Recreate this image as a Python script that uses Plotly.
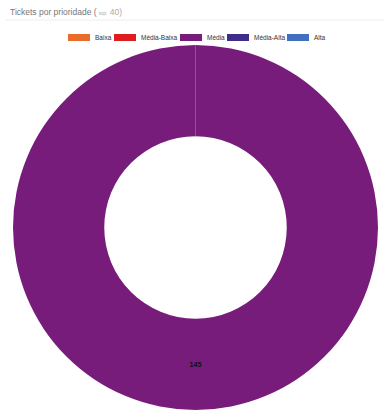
import plotly.graph_objects as go

# ---- data ----
labels = ["Baixa", "Média-Baixa", "Média", "Média-Alta", "Alta"]
values = [0, 0, 145, 0, 0]
colors = ["#EA6C2B", "#DD1D1F", "#771C7B", "#3E2D89", "#4170BE"]
title_main = "Tickets por prioridade ( "
title_small = "top:"
title_top = " 40)"

W, H = 389, 419
FONT = "Liberation Sans, Arial, sans-serif"

def px(x):
    return x / W

def py(y):
    return 1 - y / H

# pie geometry (pixels)
cx, cy, R = 195.5, 227.5, 182.5
hole = 0.5

fig = go.Figure()
fig.add_trace(go.Pie(
    labels=labels, values=values,
    marker=dict(colors=colors),
    hole=hole, sort=False, direction="clockwise", rotation=0,
    textinfo="value", texttemplate="<b>%{value}</b>",
    textposition="inside", insidetextorientation="horizontal",
    textfont=dict(size=7, color="#111111", family=FONT),
    domain=dict(x=[px(cx - R), px(cx + R)], y=[py(cy + R), py(cy - R)]),
    showlegend=False, hoverinfo="label+value",
))

shapes = []
annotations = []

# separator under title
shapes.append(dict(type="line", xref="paper", yref="paper",
                   x0=px(5), x1=px(384), y0=py(20), y1=py(20),
                   line=dict(color="#EEEEEE", width=1)))

# thin start line of the ring (top)
shapes.append(dict(type="line", xref="paper", yref="paper",
                   x0=px(cx), x1=px(cx), y0=py(cy - R), y1=py(cy - R * hole),
                   line=dict(color="#4A6FB5", width=1)))

# title
annotations.append(dict(
    xref="paper", yref="paper", x=px(8), y=py(12), xanchor="left", yanchor="middle",
    showarrow=False,
    text=(f"<span style='color:#777777;font-size:8.5px'>{title_main}</span>"
          f"<span style='color:#AAAAAA;font-size:5px'>{title_small}</span>"
          f"<span style='color:#AAAAAA;font-size:8.5px'>{title_top}</span>"),
    font=dict(family=FONT, size=8.5, color="#777777"),
))

# manual legend (rectangular swatches)
sw_x = [68, 114, 180, 227, 287]
for lab, col, x0 in zip(labels, colors, sw_x):
    shapes.append(dict(type="rect", xref="paper", yref="paper",
                       x0=px(x0), x1=px(x0 + 22), y0=py(41), y1=py(34),
                       fillcolor=col, line=dict(width=0)))
    annotations.append(dict(
        xref="paper", yref="paper", x=px(x0 + 24.5), y=py(37.5),
        xanchor="left", yanchor="middle", showarrow=False,
        text=lab, font=dict(family=FONT, size=6.5, color="#333333")))

fig.update_layout(
    width=W, height=H,
    margin=dict(l=0, r=0, t=0, b=0),
    paper_bgcolor="white", plot_bgcolor="white",
    shapes=shapes, annotations=annotations,
    showlegend=False,
)

fig.write_html(
    "out.html",
    config={"displayModeBar": False},
    post_script="document.body.style.margin='0';document.body.style.overflow='hidden';",
)
